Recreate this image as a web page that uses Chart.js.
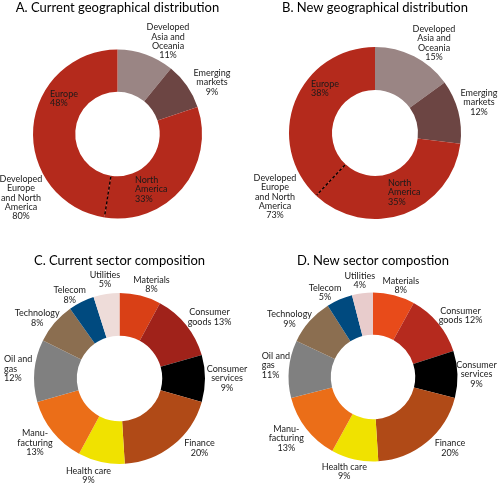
<!DOCTYPE html>
<html>
<head>
<meta charset="utf-8">
<script src="https://cdn.jsdelivr.net/npm/chart.js@4"></script>
<style>
html, body { margin: 0; padding: 0; background: #fff; }
#wrap { position: relative; width: 500px; height: 486px; }
.cell { position: absolute; width: 250px; height: 243px; }
</style>
</head>
<body>
<div id="wrap">
  <div class="cell" style="left:0;top:0"><canvas id="chartA"></canvas></div>
  <div class="cell" style="left:250px;top:0"><canvas id="chartB"></canvas></div>
  <div class="cell" style="left:0;top:243px"><canvas id="chartC"></canvas></div>
  <div class="cell" style="left:250px;top:243px"><canvas id="chartD"></canvas></div>
</div>
<script>
// geographical split
const geoNames = ["Developed\nAsia and\nOceania", "Emerging\nmarkets", "North\nAmerica", "Europe"];
const geoCurrent = [11, 9, 33, 48];
const geoNew = [15, 12, 35, 38];
const geoGroupName = "Developed\nEurope\nand North\nAmerica";
const geoGroupCurrent = 80;
const geoGroupNew = 73;

// sector split
const sectorNames = ["Materials", "Consumer\ngoods", "Consumer\nservices", "Finance", "Health care",
  "Manu-\nfacturing", "Oil and\ngas", "Technology", "Telecom", "Utilities"];
const sectorCurrent = [8, 13, 9, 20, 9, 13, 12, 8, 5, 5];
const sectorCurrentShown = [8, 13, 9, 20, 9, 13, 12, 8, 8, 5]; // the source prints 8% on the telecom slice
const sectorNew = [8, 12, 9, 20, 9, 13, 11, 9, 5, 4];

const geoColors = ['#9a8584', '#6c4543', '#b42a1c', '#b42a1c'];
const sectorColorsC = ['#d94016', '#a0221a', '#000000', '#b04a17', '#f0e200', '#eb6e18', '#808080', '#8b6e50', '#004a7f', '#eedcd9'];
const sectorColorsD = ['#e84b1a', '#b52a1e', '#000000', '#b04a17', '#f0e200', '#eb6e18', '#808080', '#8b6e50', '#004a7f', '#e8cccc'];

const FONT = 'Lato, "Open Sans", sans-serif';
const LINE_H = 9.3;

// label spots, relative to the ring centre
const geoSpotsA = [
  { dx: 50.5, dy: -106.5 }, { dx: 94.5, dy: -61 },
  { dx: 17.5, dy: 46, align: 'left' }, { dx: -67.5, dy: -40, align: 'left' }
];
const geoSpotsB = [
  { dx: 59, dy: -104 }, { dx: 104, dy: -40 },
  { dx: 13, dy: 50, align: 'left' }, { dx: -64, dy: -49, align: 'left' }
];
const sectorSpotsC = [
  { dx: 32, dy: -98.5 }, { dx: 90, dy: -66, inline: true }, { dx: 107.5, dy: -9.5 },
  { dx: 80, dy: 65 }, { dx: -31, dy: 92.5 }, { dx: -84.5, dy: 55 },
  { dx: -115.5, dy: -19, align: 'left' }, { dx: -82.3, dy: -65 }, { dx: -49.8, dy: -88 },
  { dx: -14.5, dy: -103.5 }
];
const sectorSpotsD = [
  { dx: 27.8, dy: -96.3 }, { dx: 87.5, dy: -66, inline: true }, { dx: 103.5, dy: -12 },
  { dx: 77, dy: 66.3 }, { dx: -28.7, dy: 89.7 }, { dx: -86.7, dy: 52 },
  { dx: -111.3, dy: -21, align: 'left' }, { dx: -83.5, dy: -62.7 }, { dx: -48, dy: -89.3 },
  { dx: -13.2, dy: -101 }
];

function labelTexts(names, pcts, spots) {
  return names.map((n, i) => ({
    ...spots[i],
    text: n + (spots[i].inline ? ' ' : '\n') + pcts[i] + '%'
  }));
}

function ringText(cfg) {
  return {
    id: 'ringText',
    afterDatasetsDraw(chart) {
      const ctx = chart.ctx;
      const arcs = chart.getDatasetMeta(0).data;
      const c = arcs[0].getProps(['x', 'y'], true);
      ctx.save();
      if (cfg.divider != null) {
        const a = arcs[cfg.divider].getProps(['startAngle', 'innerRadius', 'outerRadius'], true);
        ctx.strokeStyle = '#000';
        ctx.lineWidth = 1.3;
        ctx.setLineDash([3, 2]);
        ctx.beginPath();
        ctx.moveTo(c.x + Math.cos(a.startAngle) * (a.innerRadius + 1), c.y + Math.sin(a.startAngle) * (a.innerRadius + 1));
        ctx.lineTo(c.x + Math.cos(a.startAngle) * (a.outerRadius - 1), c.y + Math.sin(a.startAngle) * (a.outerRadius - 1));
        ctx.stroke();
        ctx.setLineDash([]);
      }
      ctx.fillStyle = '#000';
      ctx.font = '13px ' + FONT;
      ctx.textAlign = 'center';
      ctx.textBaseline = 'alphabetic';
      ctx.fillText(cfg.title, c.x, cfg.titleY);
      ctx.fillStyle = '#1a1a1a';
      ctx.font = '9px ' + FONT;
      ctx.textBaseline = 'middle';
      cfg.labels.forEach(l => {
        ctx.textAlign = l.align || 'center';
        l.text.split('\n').forEach((s, i) => ctx.fillText(s, c.x + l.dx, c.y + l.dy + i * LINE_H));
      });
      ctx.restore();
    }
  };
}

function makeRing(id, values, colors, box, text) {
  const W = 250, H = 243;
  return new Chart(document.getElementById(id), {
    type: 'doughnut',
    data: {
      labels: values.map((v, i) => i),
      datasets: [{ data: values, backgroundColor: colors, borderWidth: 0 }]
    },
    options: {
      responsive: true,
      maintainAspectRatio: false,
      animation: false,
      events: [],
      cutout: '50%',
      layout: {
        padding: {
          left: box.cx - box.r, right: W - box.cx - box.r,
          top: box.cy - box.r, bottom: H - box.cy - box.r
        }
      },
      plugins: { legend: { display: false }, tooltip: { enabled: false } }
    },
    plugins: [ringText(text)]
  });
}

makeRing('chartA', geoCurrent, geoColors, { cx: 117.5, cy: 134, r: 84.5 }, {
  title: 'A. Current geographical distribution', titleY: 12.3, divider: 3,
  labels: labelTexts(geoNames, geoCurrent, geoSpotsA)
    .concat([{ dx: -96.5, dy: 45, text: geoGroupName + '\n' + geoGroupCurrent + '%' }])
});
makeRing('chartB', geoNew, geoColors, { cx: 125, cy: 133, r: 86 }, {
  title: 'B. New geographical distribution', titleY: 12.3, divider: 3,
  labels: labelTexts(geoNames, geoNew, geoSpotsB)
    .concat([{ dx: -100, dy: 45, text: geoGroupName + '\n' + geoGroupNew + '%' }])
});
makeRing('chartC', sectorCurrent, sectorColorsC, { cx: 119.5, cy: 135.5, r: 85.5 }, {
  title: 'C. Current sector composition', titleY: 22,
  labels: labelTexts(sectorNames, sectorCurrentShown, sectorSpotsC)
});
makeRing('chartD', sectorNew, sectorColorsD, { cx: 123, cy: 134, r: 84.5 }, {
  title: 'D. New sector compostion', titleY: 22,
  labels: labelTexts(sectorNames, sectorNew, sectorSpotsD)
});
</script>
</body>
</html>
